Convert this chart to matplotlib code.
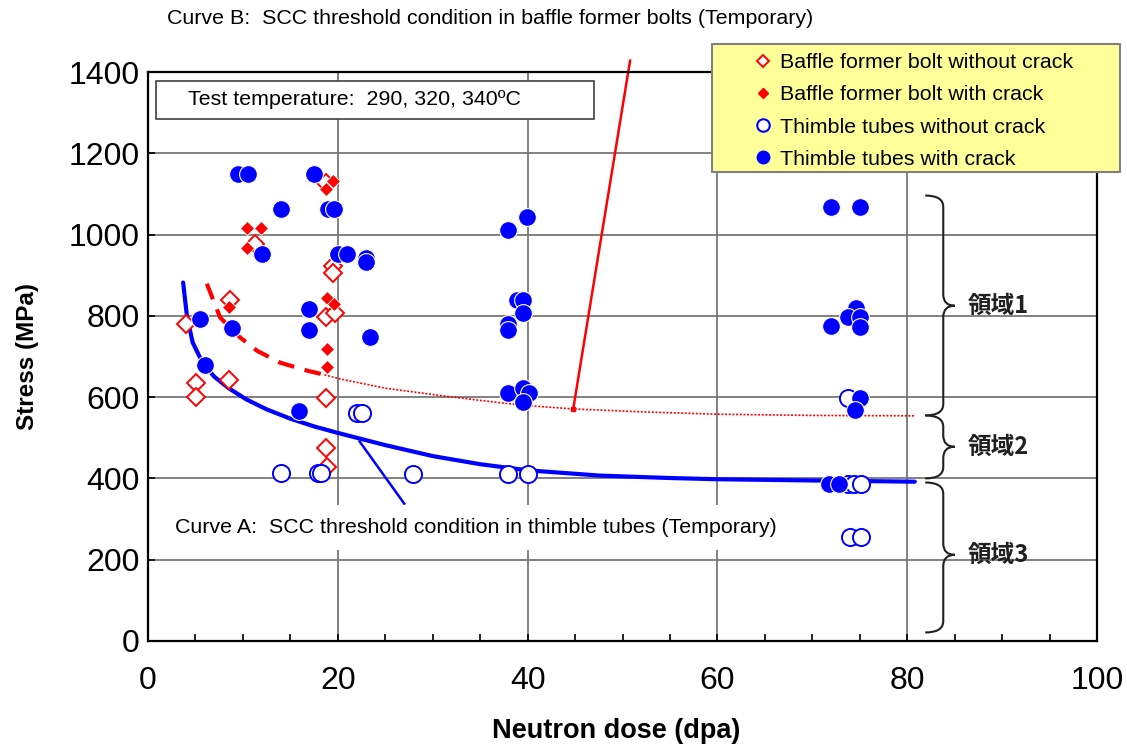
import matplotlib
matplotlib.use("Agg")
import matplotlib.pyplot as plt
from matplotlib.lines import Line2D
from matplotlib.patches import Rectangle, PathPatch
from matplotlib.path import Path
from matplotlib.ticker import MultipleLocator

plt.rcParams['font.family'] = ['Liberation Sans', 'DejaVu Sans']

# ---------------- data ----------------
bolt_nc_x = [4.0, 5.1, 5.1, 8.6, 8.5, 11.3, 18.8, 19.5, 19.5, 18.8, 19.7, 18.8, 18.8, 18.9]
bolt_nc_y = [781, 634, 601, 840, 641, 978, 1128, 922, 905, 797, 806, 597, 475, 427]

bolt_c_x = [10.4, 11.9, 10.4, 8.5, 18.8, 19.5, 18.9, 19.6, 18.9, 18.9]
bolt_c_y = [1017, 1017, 966, 823, 1113, 1133, 845, 830, 719, 673]

tube_nc_x = [14.0, 17.9, 18.2, 27.9, 22.0, 22.6, 37.9, 40.0, 73.8, 73.8, 74.4, 75.1, 74.0, 75.1]
tube_nc_y = [414, 414, 414, 412, 560, 560, 410, 410, 597, 387, 387, 387, 257, 257]

tube_c_x = [9.5, 10.5, 17.5, 14.0, 19.0, 19.6, 12.0, 20.0, 21.0, 23.0, 23.0, 5.5, 8.9,
            17.0, 17.0, 23.4, 6.0, 15.9,
            39.9, 37.9, 38.9, 39.5, 39.5, 37.9, 37.9, 37.9, 39.5, 40.2, 39.5,
            72.0, 75.0, 74.6, 73.8, 75.0, 75.0, 72.0, 75.0, 74.5, 71.8, 72.8]
tube_c_y = [1148, 1148, 1148, 1062, 1062, 1062, 953, 953, 953, 943, 933, 793, 769,
            818, 764, 747, 678, 567,
            1044, 1012, 838, 838, 808, 781, 764, 611, 623, 611, 587,
            1067, 1067, 820, 796, 796, 772, 774, 597, 569, 387, 387]

# Curve A (thimble tubes threshold)
curveA_x = [3.7, 4.1, 4.7, 5.8, 7.0, 8.5, 10.4, 12.5, 15.0, 17.5, 20.0, 25.0, 30.0,
            35.0, 40.0, 47.6, 55.0, 60.0, 70.0, 80.8]
curveA_y = [882, 800, 735, 682, 650, 622, 594, 570, 547, 528, 512, 482, 455,
            435, 420, 407, 401, 398, 395, 392]

# Curve B (baffle former bolts threshold): dashed part and dotted extension
curveB_dash_x = [6.2, 7.6, 9.7, 11.5, 13.9, 16.8, 18.6]
curveB_dash_y = [879, 796, 747, 714, 685, 665, 655]
curveB_dot_x = [18.6, 20.2, 25.0, 30.8, 35.0, 39.5, 44.8, 51.8, 60.0, 70.0, 80.8]
curveB_dot_y = [655, 645, 622, 604, 592, 580, 571, 564, 558, 555, 554]

# leader lines
leaderB_x = [44.8, 50.8]
leaderB_y = [570, 1428]
leaderA_x = [22.3, 27.0]
leaderA_y = [491, 338]

# regions (label, top, bottom, tip) in MPa
regions = [("領域1", 1096, 555, 825), ("領域2", 555, 400, 478), ("領域3", 390, 21, 212)]

x_ticks = [0, 20, 40, 60, 80, 100]
y_ticks = [0, 200, 400, 600, 800, 1000, 1200, 1400]

# ---------------- figure ----------------
W, H = 1127, 747
FS = 15.4
fig = plt.figure(figsize=(W / 100, H / 100), dpi=100)
L, R, B, T = 148, 1097, 641, 72
ax = fig.add_axes([L / W, 1 - B / H, (R - L) / W, (B - T) / H])
ax.set_xlim(0, 100)
ax.set_ylim(0, 1400)
ax.set_xticks(x_ticks)
ax.set_yticks(y_ticks)
ax.xaxis.set_minor_locator(MultipleLocator(5))
ax.grid(True, which='major', color='#777777', lw=1.3, zorder=0)
ax.set_axisbelow(True)
for s in ax.spines.values():
    s.set_linewidth(1.6)
    s.set_color('black')
ax.tick_params(axis='y', direction='in', length=5, width=1.2, labelsize=23, pad=6)
ax.tick_params(axis='x', which='major', direction='in', length=5, width=1.2, labelsize=23, pad=18)
ax.tick_params(axis='x', which='minor', direction='in', length=5, width=1.2)

# curves
ax.plot(curveA_x, curveA_y, color='#0000FF', lw=3, zorder=2, solid_capstyle='round',
        solid_joinstyle='round')
ax.plot(curveB_dash_x, curveB_dash_y, color='#FF0000', lw=3, ls=(0, (4, 2.6)), zorder=2)
ax.plot(curveB_dot_x, curveB_dot_y, color='#FF0000', lw=1.2, ls=(0, (1.2, 1.0)), zorder=2)
ax.plot(leaderB_x, leaderB_y, color='#FF0000', lw=1.8, zorder=2, clip_on=False)
ax.plot(leaderB_x[:1], leaderB_y[:1], 's', color='#FF0000', ms=3, zorder=2)
ax.plot(leaderA_x, leaderA_y, color='#0000FF', lw=1.8, zorder=2)

# markers
ax.plot(bolt_nc_x, bolt_nc_y, 'D', ls='none', ms=9.3, mfc='white', mec='#FF0000', mew=1.4, zorder=4)
ax.plot(bolt_c_x, bolt_c_y, 'D', ls='none', ms=7, mfc='#FF0000', mec='white', mew=0.6, zorder=5)
ax.plot(tube_nc_x, tube_nc_y, 'o', ls='none', ms=12.3, mfc='white', mec='#0000FF', mew=1.4, zorder=6)
ax.plot(tube_c_x, tube_c_y, 'o', ls='none', ms=12.8, mfc='#0000FF', mec='white', mew=0.8, zorder=7)

# text boxes
ax.add_patch(Rectangle((0.84, 1285), 47.0 - 0.84, 1379 - 1285, facecolor='white',
                       edgecolor='#404040', lw=1.2, zorder=3))
ax.text(4.2, 1332, "Test temperature:  290, 320, 340ºC", fontsize=FS, ha='left', va='center', zorder=4)
ax.text(2.85, 279, "Curve A:  SCC threshold condition in thimble tubes (Temporary)", fontsize=FS,
        ha='left', va='center', zorder=3,
        bbox=dict(boxstyle='square,pad=0.6', facecolor='white', edgecolor='none'))
ax.text((490 - L) / (R - L), (B - 18) / (B - T),
        "Curve B:  SCC threshold condition in baffle former bolts (Temporary)",
        fontsize=FS, ha='center', va='center', transform=ax.transAxes, clip_on=False)

# braces
def brace(x0, x1, x2, top, bot, tip, r=28):
    verts = [(x0, top), (x1, top), (x1, top - r),
             (x1, tip + r), (x1, tip), (x2, tip),
             (x1, tip), (x1, tip - r),
             (x1, bot + r), (x1, bot), (x0, bot)]
    codes = [Path.MOVETO, Path.CURVE3, Path.CURVE3,
             Path.LINETO, Path.CURVE3, Path.CURVE3,
             Path.CURVE3, Path.CURVE3,
             Path.LINETO, Path.CURVE3, Path.CURVE3]
    return PathPatch(Path(verts, codes), facecolor='none', edgecolor='#202020', lw=1.5, zorder=3)

for name, top, bot, tip in regions:
    ax.add_patch(brace(81.9, 83.8, 85.0, top, bot, tip))
    ax.text(86.4, tip, name, fontsize=17, fontweight='bold', ha='left', va='center',
            family=['Noto Sans CJK JP', 'DejaVu Sans'], color='#202020', zorder=3)

# axis labels
ax.set_xlabel("Neutron dose (dpa)", fontsize=19.5, fontweight='bold')
ax.set_ylabel("Stress (MPa)", fontsize=17.5, fontweight='bold')
ax.xaxis.set_label_coords((616 - L) / (R - L), (B - 731) / (B - T))
ax.xaxis.label.set_verticalalignment('center')
ax.yaxis.set_label_coords((28 - L) / (R - L), 0.5)
ax.yaxis.label.set_verticalalignment('center')

# legend
ax.add_patch(Rectangle((712 / W, 1 - 172 / H), 408 / W, 128 / H, transform=fig.transFigure,
                       facecolor='#FFFF99', edgecolor='#808080', lw=1.5, zorder=10, clip_on=False))
handles = [
    Line2D([], [], marker='D', ls='none', ms=6.5, mfc='white', mec='#FF0000', mew=1.4),
    Line2D([], [], marker='D', ls='none', ms=5, mfc='#FF0000', mec='#FF0000'),
    Line2D([], [], marker='o', ls='none', ms=9, mfc='white', mec='#0000FF', mew=1.5),
    Line2D([], [], marker='o', ls='none', ms=9, mfc='#0000FF', mec='#0000FF'),
]
labels = ["Baffle former bolt without crack", "Baffle former bolt with crack",
          "Thimble tubes without crack", "Thimble tubes with crack"]
leg = ax.legend(handles, labels, loc='center left', bbox_to_anchor=(752.3 / W, 1 - 111 / H),
                bbox_transform=fig.transFigure, frameon=False, fontsize=FS,
                handlelength=1.0, handletextpad=0.29, borderpad=0, borderaxespad=0,
                labelspacing=0.62)
leg.set_zorder(11)

fig.savefig("out.png", dpi=100)
